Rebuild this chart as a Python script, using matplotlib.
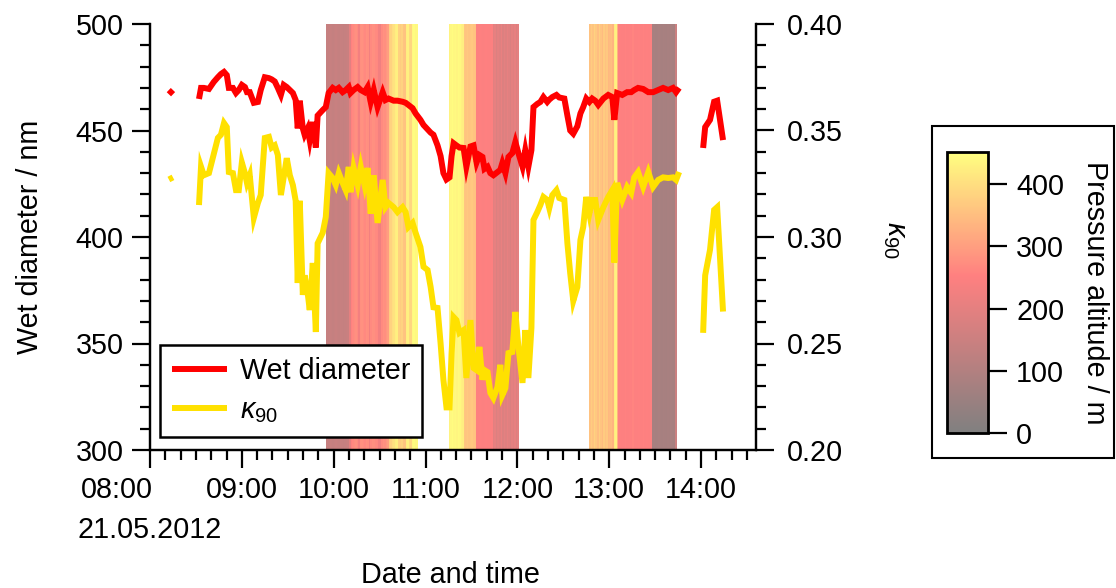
import numpy as np
import pandas as pd
import matplotlib
matplotlib.use("Agg")
import matplotlib.pyplot as plt
import matplotlib.transforms as mtransforms
from matplotlib.colors import LinearSegmentedColormap
from matplotlib.ticker import MultipleLocator, FormatStrFormatter
from matplotlib.patches import Rectangle

plt.rcParams['font.family'] = ['Liberation Sans', 'DejaVu Sans']
plt.rcParams['mathtext.fontset'] = 'custom'
plt.rcParams['mathtext.rm'] = 'Liberation Sans'
plt.rcParams['mathtext.it'] = 'Liberation Sans:italic'

FS = 20.7

# ---- measurement time series (21.05.2012) ----
times = [
    "08:12:20", "08:15:00", "08:24:00",
    "08:32:00", "08:33:20", "08:35:10", "08:38:30", "08:41:40", "08:44:20", "08:46:20", "08:48:20",
    "08:50:10", "08:51:30", "08:54:10", "08:56:10", "08:58:00", "09:00:00", "09:02:00", "09:03:20",
    "09:05:10", "09:07:50", "09:10:30", "09:12:20", "09:15:00", "09:17:40", "09:19:30", "09:21:30",
    "09:23:30", "09:25:30", "09:27:20", "09:29:20", "09:31:20", "09:33:20", "09:35:10", "09:36:30",
    "09:37:50", "09:39:50", "09:41:00", "09:43:00", "09:44:20", "09:46:20", "09:48:20", "09:49:30",
    "09:52:50", "09:54:50", "09:56:40", "09:59:20", "10:01:20", "10:03:20", "10:05:50", "10:07:50",
    "10:09:50", "10:11:00", "10:13:00", "10:15:40", "10:17:40", "10:20:10", "10:22:10", "10:24:10",
    "10:26:10", "10:28:40", "10:32:00", "10:33:50", "10:35:50", "10:39:10", "10:41:40", "10:45:00",
    "10:47:00", "10:48:50", "10:51:30", "10:53:30", "10:56:40", "10:58:40", "11:01:20", "11:03:20",
    "11:05:10", "11:07:50", "11:09:50", "11:11:40", "11:13:40", "11:15:40", "11:17:00", "11:18:20",
    "11:20:10", "11:22:10", "11:24:50", "11:26:40", "11:29:20", "11:31:20", "11:33:20", "11:35:10",
    "11:37:10", "11:38:30", "11:40:30", "11:42:20", "11:44:20", "11:47:00", "11:48:50", "11:50:10",
    "11:52:10", "11:54:10", "11:56:40", "11:58:40", "12:00:40", "12:03:20", "12:05:10", "12:07:10",
    "12:09:10", "12:10:30", "12:13:00", "12:15:00", "12:17:00", "12:19:30", "12:20:50", "12:22:50",
    "12:25:30", "12:27:20", "12:30:40", "12:32:40", "12:34:30", "12:36:30", "12:39:10", "12:41:10",
    "12:43:00", "12:45:00", "12:47:00", "12:48:50", "12:50:50", "12:52:50", "12:56:10", "12:59:20",
    "13:02:00", "13:03:20", "13:05:10", "13:08:30", "13:11:40", "13:14:20", "13:16:20", "13:18:50",
    "13:22:10", "13:25:30", "13:28:40", "13:32:00", "13:35:10", "13:38:30", "13:41:40", "13:43:40",
    "13:45:40", "13:54:00",
    "14:01:20", "14:02:40", "14:05:50", "14:08:30", "14:10:30", "14:14:20",
]

wet_diameter = [
    467, 469, np.nan,
    464.8, 470, 470, 469.5, 472.8, 475, 476.5, 477.5,
    476, 470, 470, 467.6, 469, 471.4, 470.4, 468,
    468, 463, 463.4, 469, 475, 474.6, 474, 473,
    470, 466.7, 471.4, 470.4, 469, 467.6, 464.3, 451,
    464, 451, 448, 451, 445.5, 454, 442, 457,
    459.6, 461, 467.6, 470, 469, 470, 468, 469,
    470.4, 467.6, 469, 470.4, 469, 468, 470.4, 463.4,
    469, 461, 468, 464.3, 465, 464, 464, 463.5,
    463, 462, 460.5, 458, 455, 452.6, 450.5, 449,
    448, 443, 438, 430, 427, 428, 438, 444,
    443, 442, 441.8, 433, 442.5, 443, 435, 438.5,
    437.6, 432, 433, 430, 429, 430.5, 431.5, 434.7,
    430, 437.6, 439.4, 444.6, 439.4, 433, 440.8, 433,
    440.8, 461, 462.5, 463.4, 465.7, 463.4, 464.5, 465.7,
    466.7, 465.5, 465, 457, 450, 448.5, 452, 458,
    461, 465, 463.4, 465, 464, 462, 465, 466.7,
    465.7, 455, 467.6, 466.7, 468, 468, 469, 470,
    469.5, 468, 468, 469, 470, 469, 470, 468,
    470, np.nan,
    441.8, 451.6, 455, 463.5, 464, 445.5,
]

kappa_90 = [
    0.327, 0.328, np.nan,
    0.315, 0.333, 0.329, 0.330, 0.339, 0.3465, 0.348, 0.3535,
    0.3516, 0.3305, 0.330, 0.322, 0.322, 0.335, 0.330, 0.3254,
    0.329, 0.309, 0.316, 0.3197, 0.3465, 0.347, 0.342, 0.343,
    0.3385, 0.3197, 0.328, 0.337, 0.329, 0.3244, 0.317, 0.2784,
    0.317, 0.2728, 0.282, 0.2737, 0.2657, 0.2878, 0.2554, 0.297,
    0.302, 0.3094, 0.330, 0.3277, 0.3244, 0.330, 0.3254, 0.322,
    0.3329, 0.321, 0.3324, 0.3244, 0.3329, 0.3244, 0.3324, 0.311,
    0.329, 0.3066, 0.3268, 0.314, 0.316, 0.314, 0.3117, 0.314,
    0.3117, 0.3047, 0.3066, 0.302, 0.2953, 0.286, 0.2845, 0.2765,
    0.267, 0.2667, 0.250, 0.233, 0.220, 0.220, 0.2455, 0.2624,
    0.261, 0.255, 0.2563, 0.2338, 0.261, 0.2385, 0.2375, 0.2484,
    0.233, 0.2375, 0.2366, 0.2268, 0.2244, 0.2296, 0.240, 0.2258,
    0.229, 0.2455, 0.246, 0.2648, 0.2484, 0.2315, 0.2563, 0.2338,
    0.2573, 0.308, 0.3117, 0.315, 0.3188, 0.3174, 0.3136, 0.3197,
    0.322, 0.3183, 0.3174, 0.297, 0.283, 0.270, 0.2765, 0.2986,
    0.3047, 0.3188, 0.311, 0.3174, 0.3174, 0.308, 0.314, 0.3188,
    0.322, 0.288, 0.3254, 0.3174, 0.3235, 0.3207, 0.328, 0.3305,
    0.3235, 0.3305, 0.3235, 0.3268, 0.328, 0.3277, 0.328, 0.3268,
    0.3305, np.nan,
    0.255, 0.282, 0.294, 0.3127, 0.314, 0.265,
]

# ---- pressure altitude during the flight legs, one value per minute ----
leg_starts = ["09:55", "11:15", "12:47"]
leg1_altitude = [140, 138, 142, 140, 136, 140, 144, 140, 138, 142, 140, 136, 140, 142, 145,
                 200, 255, 268,
                 272, 278, 270, 228, 276, 280, 272, 268, 278, 274, 226, 270, 278, 276, 270,
                 266, 228, 224, 270, 282, 276, 288, 300,
                 370, 380, 400, 405, 425, 428, 378, 372, 380, 360, 358, 425, 430, 392, 388,
                 440, 445, 438, 442]
leg2_altitude = [432, 440, 445, 438, 442, 436, 444, 440, 430, 425,
                 362, 360, 365, 358, 362, 366, 360, 355,
                 250, 248, 252, 250, 246, 250, 252, 248, 250, 246, 250,
                 195, 205, 185, 200, 190, 210, 185, 200, 188, 205, 192, 180, 200, 190, 205,
                 185, 200]
leg3_altitude = [355, 372, 360, 380, 365, 350, 375, 360, 345, 370, 355, 365, 340, 345, 350,
                 335, 420, 430, 330,
                 250, 252, 248, 250, 255, 250, 248, 252, 250, 258, 250, 248, 250, 252, 250,
                 248, 255, 250, 252, 248, 250, 250,
                 78, 80, 76, 78, 82, 78, 76, 80, 78, 76, 80, 78, 82, 78, 76,
                 150]
leg_altitudes = [leg1_altitude, leg2_altitude, leg3_altitude]

hour_ticks = [8, 9, 10, 11, 12, 13, 14]
hour_labels = ["08:00", "09:00", "10:00", "11:00", "12:00", "13:00", "14:00"]
date_label = "21.05.2012"
altitude_ticks = [0, 100, 200, 300, 400]


def to_hours(s):
    return pd.to_timedelta(s if s.count(":") == 2 else s + ":00").total_seconds() / 3600.0


t = np.array([to_hours(s) for s in times])
d = np.array(wet_diameter, dtype=float)
k = np.array(kappa_90, dtype=float)

W, H = 1116, 588
fig = plt.figure(figsize=(W / 100, H / 100), dpi=100)
ax = fig.add_axes([150 / W, 1 - 450 / H, 606 / W, 426 / H])
ax2 = ax.twinx()

cmap = LinearSegmentedColormap.from_list(
    "altitude", [(0.0, "#808080"), (0.56, "#ff8080"), (1.0, "#ffff80")])
vmin, vmax = 0, 452

mesh = None
for start, alts in zip(leg_starts, leg_altitudes):
    t0 = to_hours(start)
    edges = t0 + np.arange(len(alts) + 1) / 60.0
    mesh = ax.pcolormesh(edges, [300, 500], np.array(alts, dtype=float)[None, :],
                         cmap=cmap, vmin=vmin, vmax=vmax, shading="flat",
                         edgecolors="none", linewidth=0, antialiased=False, zorder=0.5)

line_d, = ax.plot(t, d, color="#ff0000", lw=4.3, solid_capstyle="butt",
                  solid_joinstyle="miter", zorder=3)
line_k, = ax2.plot(t, k, color="#ffe100", lw=4.3, solid_capstyle="butt",
                   solid_joinstyle="miter", zorder=3)

ax.set_xlim(8, 8 + 607 / 92)
ax.set_ylim(300, 500)
ax2.set_ylim(0.20, 0.40)

for a in (ax, ax2):
    a.spines["top"].set_visible(False)
    for s in ("left", "right", "bottom"):
        a.spines[s].set_linewidth(1.6)

ax.set_xticks(hour_ticks)
ax.set_xticklabels(hour_labels)
ax.xaxis.set_minor_locator(MultipleLocator(1 / 6))
ax.yaxis.set_major_locator(MultipleLocator(50))
ax.yaxis.set_minor_locator(MultipleLocator(10))
ax2.yaxis.set_major_locator(MultipleLocator(0.05))
ax2.yaxis.set_minor_locator(MultipleLocator(0.01))
ax2.yaxis.set_major_formatter(FormatStrFormatter("%.2f"))

for a in (ax, ax2):
    a.tick_params(which="major", direction="out", length=13, width=1.6,
                  labelsize=FS, pad=6, color="black")
    a.tick_params(which="minor", direction="out", length=7, width=1.6, color="black")
ax2.tick_params(which="major", pad=9)

# the first hour label sits left-aligned above the date line
first = ax.get_xticklabels()[0]
first.set_transform(first.get_transform() +
                    mtransforms.ScaledTranslation(-33 / 100, 0, fig.dpi_scale_trans))
fig.text(78 / W, 1 - 530 / H, date_label, fontsize=FS, ha="left", va="center")

ax.set_ylabel("Wet diameter / nm", fontsize=FS)
ax.yaxis.label.set_va("center")
ax.yaxis.set_label_coords((30 - 150) / 606, 0.5)
ax2.set_ylabel(r"$\kappa_{90}$", fontsize=FS, rotation=270)
ax2.yaxis.label.set_va("center")
ax2.yaxis.set_label_coords((895 - 150) / 606, (450 - 240) / 426)
ax.set_xlabel("Date and time", fontsize=FS)
ax.xaxis.label.set_va("center")
ax.xaxis.set_label_coords((450 - 150) / 606, (450 - 575) / 426)

leg = ax2.legend([line_d, line_k], ["Wet diameter", r"$\kappa_{90}$"],
                 loc="lower left", bbox_to_anchor=((160 - 150) / 606, (450 - 437) / 426),
                 borderaxespad=0, fancybox=False, edgecolor="black", framealpha=1,
                 fontsize=FS, handlelength=1.9, labelspacing=0.38, borderpad=0.42,
                 handletextpad=0.45)
leg.get_frame().set_linewidth(1.8)

# colour scale for pressure altitude, inside its own frame
cax = fig.add_axes([946.7 / W, 1 - 433.3 / H, 41.6 / W, 281.6 / H])
cb = fig.colorbar(mesh, cax=cax, ticks=altitude_ticks)
cb.outline.set_linewidth(2)
cax.tick_params(length=14, width=1.6, labelsize=FS, pad=6)
fig.text(1095 / W, 1 - 293 / H, "Pressure altitude / m", fontsize=FS,
         rotation=270, ha="center", va="center")
fig.patches.append(Rectangle((932 / W, 1 - 458 / H), 182 / W, 332 / H,
                             transform=fig.transFigure, fill=False,
                             edgecolor="black", linewidth=1.5))

fig.savefig("out.png", dpi=100)
